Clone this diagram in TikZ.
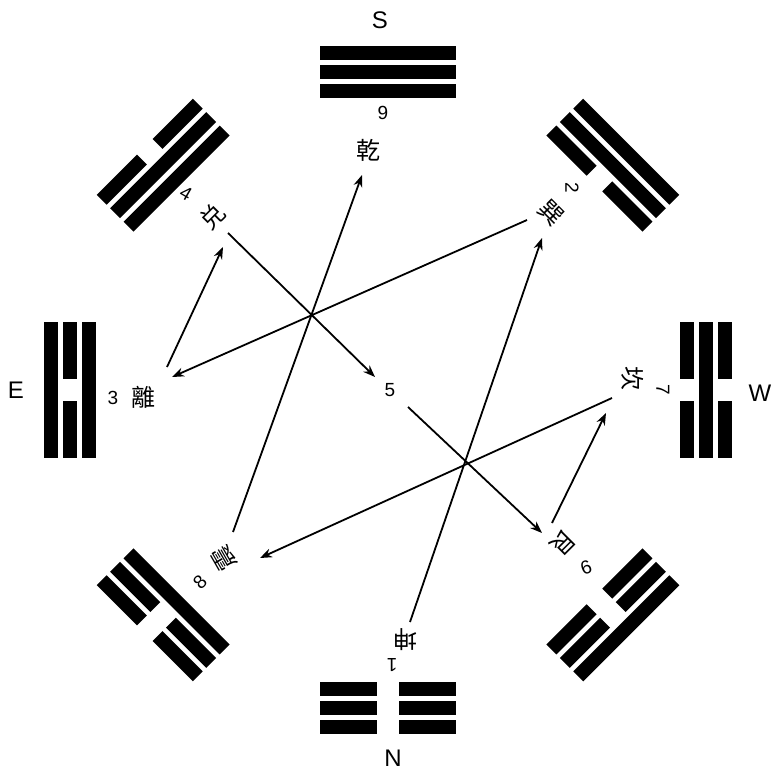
\documentclass[tikz,border=0pt]{standalone}
\usepackage{fontspec}
\setmainfont{Liberation Sans}
\newfontfamily\cjk{Noto Sans CJK SC}
\usetikzlibrary{arrows.meta}
\newcommand\sol[1]{\fill (-68,-#1-7) rectangle (68,-#1+7);}
\newcommand\brk[1]{\fill (-68,-#1-7) rectangle (-11,-#1+7);\fill (11,-#1-7) rectangle (68,-#1+7);}
\newcommand\trigram[2]{\begin{scope}[shift={(388,390)},rotate=#1]#2\end{scope}}
\begin{document}
\begin{tikzpicture}[x=1pt,y=-1pt,
  dirlbl/.style={font=\fontsize{24}{26}\selectfont, inner sep=0pt},
  dig/.style={font=\fontsize{19}{21}\selectfont, inner sep=0pt},
  chr/.style={font=\cjk\fontsize{24}{26}\selectfont, inner sep=0pt},
  conn/.style={draw, line width=1.8pt, -{Stealth[length=12pt,width=9pt]}}]
\useasboundingbox (0,0) rectangle (774,773);
% trigrams (inner, middle, outer)
\trigram{0}{\sol{299}\sol{318}\sol{337}}      % S  Qian
\trigram{45}{\sol{299}\sol{318}\brk{337}}     % SE Dui
\trigram{90}{\sol{299}\brk{318}\sol{337}}     % E  Li
\trigram{135}{\sol{299}\brk{318}\brk{337}}    % NE Zhen
\trigram{180}{\brk{299}\brk{318}\brk{337}}    % N  Kun
\trigram{-135}{\brk{299}\brk{318}\sol{337}}   % NW Gen
\trigram{-90}{\brk{299}\sol{318}\brk{337}}    % W  Kan
\trigram{-45}{\brk{299}\sol{318}\sol{337}}    % SW Xun
% direction letters
\node[dirlbl] (S) at (380,20) {S};
\node[dirlbl] (N) at (393,758) {N};
\node[dirlbl] (E) at (16,390) {E};
\node[dirlbl] (W) at (760,393) {W};
% numbers and names
\node[dig] (n9) at (383,113) {9};
\node[chr] (qian) at (368,150) {乾};
\node[dig,rotate=-30] (n4) at (186,193) {4};
\node[chr,rotate=45] (dui) at (213,217) {兑};
\node[dig] (n3) at (113,398) {3};
\node[chr] (li) at (143,397) {離};
\node[dig,rotate=45] (n8) at (200,582) {8};
\node[chr,rotate=120] (zhen) at (224,558) {震};
\node[chr,rotate=180] (kun) at (405,640) {坤};
\node[dig,rotate=180] (n1) at (392,665) {1};
\node[chr,rotate=-135] (gen) at (563,543) {艮};
\node[dig,rotate=20] (n6) at (586,568) {6};
\node[chr,rotate=-90] (kan) at (633,378) {坎};
\node[dig,rotate=-90] (n7) at (663,390) {7};
\node[chr,rotate=-45] (xun) at (551,213) {巽};
\node[dig,rotate=-90] (n2) at (572,188) {2};
\node[dig] (n5) at (390,390) {5};
% connector end points
\coordinate (liS) at (167,367);   \coordinate (duiE) at (223,247);
\coordinate (duiS) at (228,233);  \coordinate (cenE) at (375,377);
\coordinate (cenS) at (408,407);  \coordinate (genE) at (542,533);
\coordinate (genS) at (552,523);  \coordinate (kanE) at (606,413);
\coordinate (kanS) at (612,398);  \coordinate (zhenE) at (260,558);
\coordinate (zhenS) at (233,532); \coordinate (qianE) at (362,175);
\coordinate (kunS) at (410,622);  \coordinate (xunE) at (542,238);
\coordinate (xunS) at (527,220);  \coordinate (liE) at (172,377);
% connectors
\draw[conn] (liS) -- (duiE);
\draw[conn] (duiS) -- (cenE);
\draw[conn] (cenS) -- (genE);
\draw[conn] (genS) -- (kanE);
\draw[conn] (kanS) -- (zhenE);
\draw[conn] (zhenS) -- (qianE);
\draw[conn] (kunS) -- (xunE);
\draw[conn] (xunS) -- (liE);
\end{tikzpicture}
\end{document}
